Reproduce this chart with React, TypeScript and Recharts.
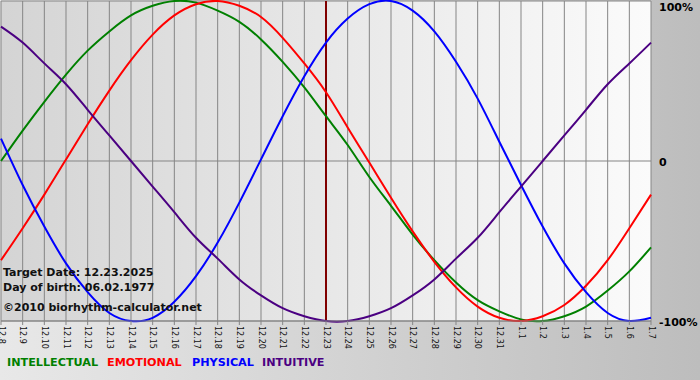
import { LineChart, Line, XAxis, YAxis, CartesianGrid, ReferenceLine } from 'recharts';

const dates = [
  '12.8', '12.9', '12.10', '12.11', '12.12', '12.13', '12.14', '12.15', '12.16', '12.17',
  '12.18', '12.19', '12.20', '12.21', '12.22', '12.23', '12.24', '12.25', '12.26', '12.27',
  '12.28', '12.29', '12.30', '12.31', '1.1', '1.2', '1.3', '1.4', '1.5', '1.6', '1.7',
];

// percent, one value per day
const intellectual = [0, 19, 37, 54, 69, 81, 91, 97, 100, 99, 94, 87, 76, 62, 46, 28, 10, -10, -28, -46, -62, -76, -87, -94, -99, -100, -97, -91, -81, -69, -54];
const emotional = [-62, -42, -21, 1, 23, 44, 63, 79, 91, 98, 100, 97, 90, 77, 61, 43, 21, -1, -23, -44, -63, -79, -91, -98, -100, -97, -90, -78, -62, -42, -21];
const physical = [14, -15, -41, -64, -82, -95, -100, -98, -88, -72, -51, -26, 1, 28, 53, 74, 89, 98, 100, 94, 81, 62, 39, 12, -15, -41, -64, -82, -95, -100, -98];
const intuitive = [84, 74, 61, 48, 32, 16, 0, -16, -32, -48, -61, -74, -84, -92, -97, -100, -100, -97, -92, -84, -74, -61, -48, -32, -16, 0, 16, 32, 48, 61, 74];

const targetDate = '12.23';
const valueTicks = [100, 0, -100];

const series = [
  { key: 'intellectual', name: 'INTELLECTUAL', color: '#008000', values: intellectual },
  { key: 'emotional', name: 'EMOTIONAL', color: '#ff0000', values: emotional },
  { key: 'physical', name: 'PHYSICAL', color: '#0000ff', values: physical },
  { key: 'intuitive', name: 'INTUITIVE', color: '#4b0082', values: intuitive },
];

const data = dates.map((date, i) => {
  const row: Record<string, string | number> = { date };
  series.forEach((s) => (row[s.key] = s.values[i]));
  return row;
});

const infoLines = ['Target Date: 12.23.2025', 'Day of birth: 06.02.1977', '\u00a92010 biorhythm-calculator.net'];
const legendX = [7, 107, 192, 262];

function DateTick({ x, y, payload }: any) {
  return (
    <text
      transform={`translate(${x},${y}) rotate(90)`}
      textAnchor="start"
      dominantBaseline="central"
      fontSize={8}
      fontFamily="DejaVu Sans"
      fill="#111"
    >
      {payload.value}
    </text>
  );
}

function PercentTick({ x, y, payload }: any) {
  const v = payload.value;
  const label = v === 0 ? '0' : `${v}%`;
  return (
    <text
      x={x}
      y={y}
      dy={v === 100 ? 6 : 1}
      textAnchor="start"
      dominantBaseline="central"
      fontSize={11}
      fontWeight="bold"
      fontFamily="DejaVu Sans"
      fill="#000"
    >
      {label}
    </text>
  );
}

export default function App() {
  return (
    <div
      style={{
        position: 'absolute',
        left: 0,
        top: 0,
        width: 700,
        height: 380,
        background: 'linear-gradient(to right, #e8e8e8, #bdbdbd)',
      }}
    >
      <LineChart width={700} height={380} data={data} margin={{ top: 1, right: 0, bottom: 21, left: 1 }}>
        <defs>
          <linearGradient id="plotBg" x1="0" y1="0" x2="1" y2="0">
            <stop offset="0%" stopColor="#d4d4d4" />
            <stop offset="100%" stopColor="#fbfbfb" />
          </linearGradient>
        </defs>
        <CartesianGrid stroke="#858585" fill="url(#plotBg)" fillOpacity={1} />
        <XAxis
          dataKey="date"
          interval={0}
          height={38}
          tickSize={4}
          tickMargin={1}
          stroke="#858585"
          tick={<DateTick />}
        />
        <YAxis
          orientation="right"
          width={49}
          domain={[-100, 100]}
          ticks={valueTicks}
          interval={0}
          axisLine={false}
          tickLine={false}
          tickSize={0}
          tickMargin={8}
          tick={<PercentTick />}
        />
        <ReferenceLine x={targetDate} stroke="#800000" strokeWidth={2} />
        {series.map((s) => (
          <Line
            key={s.key}
            type="natural"
            dataKey={s.key}
            stroke={s.color}
            strokeWidth={2}
            dot={false}
            isAnimationActive={false}
          />
        ))}
      </LineChart>
      <svg
        width={700}
        height={380}
        style={{ position: 'absolute', left: 0, top: 0, pointerEvents: 'none' }}
        fontFamily="DejaVu Sans"
        fontWeight="bold"
      >
        {infoLines.map((t, i) => (
          <text key={t} x={3} y={[276, 291, 311][i]} fontSize={11} fill="#111">
            {t}
          </text>
        ))}
        {series.map((s, i) => (
          <text key={s.key} x={legendX[i]} y={366} fontSize={11.2} fill={s.color}>
            {s.name}
          </text>
        ))}
      </svg>
    </div>
  );
}
